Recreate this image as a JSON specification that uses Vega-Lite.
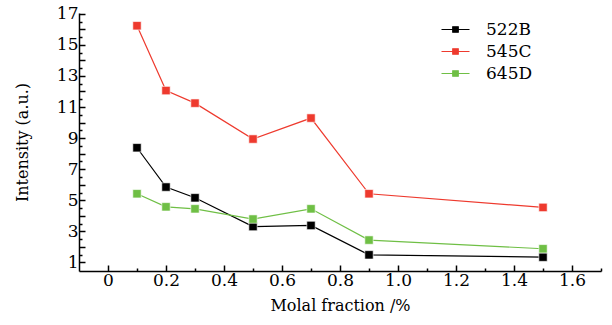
{
  "$schema": "https://vega.github.io/schema/vega-lite/v6.json",
  "width": 522,
  "height": 258,
  "autosize": "none",
  "padding": {"left": 79, "top": 13, "right": 11, "bottom": 54},
  "background": "white",
  "config": {
    "font": "DejaVu Serif",
    "view": {"stroke": null},
    "axis": {
      "grid": false,
      "domainColor": "black",
      "tickColor": "black",
      "labelColor": "black",
      "titleColor": "black",
      "labelFontSize": 17,
      "titleFontSize": 16,
      "titleFontWeight": "normal",
      "labelFont": "DejaVu Serif",
      "titleFont": "DejaVu Serif",
      "domainWidth": 1.5,
      "tickWidth": 1.5
    },
    "legend": {"labelFont": "DejaVu Serif", "labelFontSize": 17, "labelColor": "black"}
  },
  "data": {
    "values": [
      {"x": 0.1, "y": 8.38, "series": "522B"},
      {"x": 0.2, "y": 5.85, "series": "522B"},
      {"x": 0.3, "y": 5.16, "series": "522B"},
      {"x": 0.5, "y": 3.31, "series": "522B"},
      {"x": 0.7, "y": 3.38, "series": "522B"},
      {"x": 0.9, "y": 1.49, "series": "522B"},
      {"x": 1.5, "y": 1.34, "series": "522B"},
      {"x": 0.1, "y": 16.23, "series": "545C"},
      {"x": 0.2, "y": 12.06, "series": "545C"},
      {"x": 0.3, "y": 11.25, "series": "545C"},
      {"x": 0.5, "y": 8.94, "series": "545C"},
      {"x": 0.7, "y": 10.29, "series": "545C"},
      {"x": 0.9, "y": 5.42, "series": "545C"},
      {"x": 1.5, "y": 4.54, "series": "545C"},
      {"x": 0.1, "y": 5.42, "series": "645D"},
      {"x": 0.2, "y": 4.58, "series": "645D"},
      {"x": 0.3, "y": 4.45, "series": "645D"},
      {"x": 0.5, "y": 3.79, "series": "645D"},
      {"x": 0.7, "y": 4.45, "series": "645D"},
      {"x": 0.9, "y": 2.44, "series": "645D"},
      {"x": 1.5, "y": 1.88, "series": "645D"}
    ]
  },
  "layer": [
    {
      "mark": {"type": "point", "opacity": 0},
      "encoding": {
        "x": {"field": "x", "type": "quantitative",
          "scale": {"domain": [-0.1, 1.7], "nice": false, "zero": false},
          "axis": {"orient": "bottom", "values": [0.1, 0.3, 0.5, 0.7, 0.9, 1.1, 1.3, 1.5, 1.7], "labels": false, "tickSize": -3, "domain": false, "title": null}},
        "y": {"field": "y", "type": "quantitative",
          "scale": {"domain": [0.45, 17.05], "nice": false, "zero": false},
          "axis": {"orient": "left", "values": [1.5, 2.5, 3.5, 4.5, 5.5, 6.5, 7.5, 8.5, 9.5, 10.5, 11.5, 12.5, 13.5, 14.5, 15.5, 16.5], "labels": false, "tickSize": -3, "domain": false, "title": null}}
      }
    },
    {
      "encoding": {
        "x": {"field": "x", "type": "quantitative",
          "scale": {"domain": [-0.1, 1.7], "nice": false, "zero": false},
          "axis": {"orient": "bottom", "values": [0, 0.2, 0.4, 0.6, 0.8, 1.0, 1.2, 1.4, 1.6], "tickSize": -6, "labelPadding": 7,
            "labelExpr": "datum.value == 0 ? '0' : format(datum.value, '.1f')", "title": "Molal fraction /%", "titlePadding": 9}},
        "y": {"field": "y", "type": "quantitative",
          "scale": {"domain": [0.45, 17.05], "nice": false, "zero": false},
          "axis": {"orient": "left", "values": [1, 2, 3, 4, 5, 6, 7, 8, 9, 10, 11, 12, 13, 14, 15, 16, 17], "tickSize": -6, "labelPadding": 7,
            "labelExpr": "datum.value % 2 == 1 ? datum.label : ''", "title": "Intensity (a.u.)", "titlePadding": 26}},
        "color": {"field": "series", "type": "nominal",
          "scale": {"domain": ["522B", "545C", "645D"], "range": ["#000000", "#ee3a2e", "#6fbf45"]},
          "legend": {"title": null, "orient": "none", "legendX": 368, "legendY": 8, "symbolType": "M-2.8,0H2.8M-0.55,-0.55H0.55V0.55H-0.55Z", "symbolSize": 100, "labelOffset": 22, "rowPadding": 4,
            "encode": {"symbols": {"update": {"fill": {"scale": "color", "field": "value"}, "stroke": {"scale": "color", "field": "value"}, "strokeWidth": {"value": 1.2}, "opacity": {"value": 1}}}}}
        }
      },
      "layer": [
        {"mark": {"type": "line", "strokeWidth": 1.2}},
        {"mark": {"type": "point", "shape": "square", "filled": true, "size": 70, "opacity": 1, "stroke": "white", "strokeWidth": 0.6}}
      ]
    }
  ],
  "resolve": {"scale": {"x": "independent", "y": "independent"}}
}
